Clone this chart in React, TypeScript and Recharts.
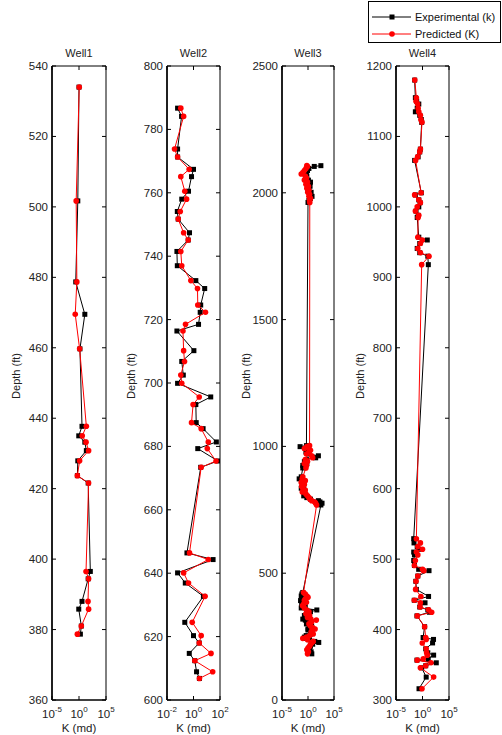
import React from 'react';
import { ScatterChart, Scatter, XAxis, YAxis, ReferenceArea } from 'recharts';

// depth (ft) and permeability K (md) per well
const well1Depth = [534, 501.7, 478.7, 469.5, 459.7, 437.7, 435, 433.2, 430.8, 427.9, 423.7, 421.6, 396.5, 394.4, 388, 385.8, 381, 378.7];
const well1Exp = [1.0, 0.6, 0.25, 12, 1.5, 3.6, 0.9, 12, 23, 0.6, 0.5, 50, 125, 50, 3.6, 0.9, 2.7, 1.8];
const well1Pred = [1.1, 0.3, 0.4, 0.2, 1.3, 23, 4, 20, 60, 1.3, 0.5, 60, 20, 60, 47, 60, 2.7, 0.5];

const well2Depth = [786.7, 784.1, 773.8, 771.3, 767.4, 765.1, 760.5, 758, 754.1, 751.7, 747.4, 745.1, 741.5, 737, 732.3, 729.8, 724.6, 722.3, 718.5, 716.4, 710.2, 706.8, 702.5, 699.9, 695.6, 693.2, 687.5, 685.6, 681.4, 679.3, 675.4, 673.4, 646.4, 644.3, 640.1, 636.9, 632.7, 624.5, 620.3, 618, 614.7, 612.4, 608.9, 606.8];
const well2Exp = [0.063, 0.126, 0.063, 0.063, 1, 0.71, 0.42, 0.13, 0.06, 0.07, 0.5, 0.4, 0.056, 0.06, 1.5, 7, 3.5, 3.2, 2.4, 0.056, 1.07, 0.13, 0.17, 0.063, 20, 1.5, 1.6, 5.3, 53, 2.1, 70, 3.5, 0.32, 30, 0.063, 0.24, 5.6, 0.22, 1, 2.7, 0.48, 1.25, 1.7, 2.8];
const well2Pred = [0.11, 0.18, 0.037, 0.063, 0.47, 0.11, 0.22, 0.3, 0.1, 0.07, 0.18, 0.4, 0.11, 0.13, 0.63, 2, 2.1, 8, 0.25, 0.16, 0.18, 0.21, 0.11, 0.13, 2.7, 0.93, 0.71, 3.8, 13, 11, 50, 3.8, 0.5, 13, 0.18, 0.42, 7.5, 0.8, 3.8, 2.7, 21, 1.25, 28, 2.8];

const well3Depth = [
  2107, 2104, 2096, 2088, 2080, 2074, 2066, 2058, 2050, 2042, 2034, 2026, 2018, 2010, 2002, 1994, 1986, 1978, 1970, 1962,
  1003, 999, 992, 985, 978, 970, 963, 955, 948, 940, 932, 925, 915, 880, 872, 865, 858, 850, 842, 835, 828, 820, 812, 805, 798, 792, 786, 781, 776, 769,
  424, 418, 410, 405, 398, 392, 385, 378, 372, 363, 355, 348, 340, 333, 325, 319, 315, 308, 300, 292, 286, 280, 276, 268, 260, 254, 248, 243, 238, 231, 227, 220, 212, 205, 198, 190, 182,
];
const well3Exp = [
  300, 16, 1.5, 0.8, 0.5, 0.3, 0.6, 0.4, 1.2, 3, 0.8, 2.5, 1.5, 0.9, 4, 2, 6, 3, 1.5, 1.0,
  0.5, 0.03, 0.3, 0.8, 0.4, 1.2, 100, 30, 0.5, 0.2, 0.6, 0.1, 0.1, 0.05, 0.02, 0.06, 0.1, 0.08, 0.15, 0.05, 0.1, 0.2, 0.3, 0.15, 0.6, 3, 100, 200, 500, 300,
  0.1, 0.066, 0.05, 0.2, 0.08, 0.037, 0.1, 0.06, 0.3, 0.05, 50, 3, 0.5, 0.2, 0.8, 0.1, 0.3, 2, 0.5, 5, 2, 1, 1, 6, 3, 0.45, 0.2, 0.3, 2, 20, 117, 8, 3, 1.5, 2, 4, 5.4,
];
const well3Pred = [
  0.6, 0.8, 0.4, 0.2, 0.1, 0.05, 0.3, 0.5, 0.2, 0.8, 0.4, 1.2, 0.6, 1.5, 0.9, 2, 1.5, 3, 2, 2.2,
  2, 0.6, 0.2, 3, 1.5, 0.5, 5, 8, 0.3, 0.8, 0.2, 0.5, 0.4, 0.1, 0.08, 0.3, 0.05, 0.2, 0.06, 0.1, 0.3, 0.08, 0.4, 0.8, 1.5, 2.5, 5, 20, 30, 45,
  0.14, 0.3, 0.6, 1, 0.3, 0.2, 0.5, 0.15, 0.09, 0.2, 0.6, 1.5, 0.4, 2, 0.8, 3.5, 40, 5, 1.5, 3, 8, 23, 6, 4, 10, 2, 0.5, 0.1, 0.8, 10, 6, 3, 2, 1, 0.6, 1.2, 0.8,
];

const well4Depth = [
  1180, 1155, 1150, 1146, 1140, 1135, 1130, 1124, 1120, 1082, 1078, 1071, 1066, 1020, 1017, 1010, 1006, 1000, 994, 988, 985, 957, 953, 948, 941, 935, 930, 918,
  529, 523, 518, 514, 510, 506, 498, 491, 485.5, 483.6, 476, 468.5, 457, 447, 441.6, 438, 432, 428, 424.6, 419.4, 404, 388.7, 386, 381, 372.6, 367, 363.7, 358.5, 356.6, 352.8, 348.6, 345.7, 332.5, 316,
];
const well4Exp = [
  0.033, 0.045, 0.08, 0.2, 0.1, 0.045, 0.3, 0.6, 0.7, 0.4, 0.3, 0.15, 0.033, 0.6, 0.045, 0.2, 0.35, 0.2, 0.06, 0.15, 0.1, 0.2, 8, 0.3, 0.1, 0.3, 10, 12.6,
  0.022, 0.025, 0.1, 0.2, 0.022, 0.03, 0.022, 0.03, 0.19, 17, 0.13, 0.055, 0.07, 14, 0.028, 3, 0.3, 10, 20, 0.09, 2.5, 1.3, 120, 80, 4, 10, 126, 12, 0.09, 400, 4, 0.7, 5, 0.22,
];
const well4Pred = [
  0.035, 0.07, 0.06, 0.12, 0.15, 0.2, 0.4, 0.5, 0.8, 0.4, 0.3, 0.12, 0.05, 0.55, 0.033, 0.2, 0.4, 0.1, 0.045, 0.2, 0.15, 0.13, 0.9, 0.4, 0.13, 0.4, 17, 0.7,
  0.07, 0.4, 0.13, 1.0, 0.07, 0.13, 0.045, 0.03, 1.0, 1.8, 0.13, 0.06, 0.05, 0.5, 0.028, 0.4, 0.35, 14, 54, 0.1, 2.5, 4, 5, 0.9, 5, 6, 8, 1.4, 0.1, 40, 4, 0.4, 126, 0.8,
];

const FONT = '"Liberation Sans", Arial, Helvetica, sans-serif';
const CHART_H = 735;
const PLOT_TOP = 66;
const PLOT_BOTTOM = 700;
const LEFT_SPACE = 52;
const RIGHT_SPACE = 12;

interface WellSpec {
  title: string;
  depth: number[];
  exp: number[];
  pred: number[];
  yDomain: [number, number];
  yTicks: number[];
  xDomain: [number, number];
  xTicks: number[];
  pageLeft: number;
  plotW: number;
}

const toPoints = (depth: number[], k: number[]) => depth.map((d, i) => ({ depth: d, k: k[i] }));

const squareShape = (p: any) => <rect x={p.cx - 2.5} y={p.cy - 2.5} width={5} height={5} fill="#000" />;
const dotShape = (p: any) => <circle cx={p.cx} cy={p.cy} r={2.8} fill="#ff0000" />;

const WellPanel = ({ spec }: { spec: WellSpec }) => {
  const width = LEFT_SPACE + spec.plotW + RIGHT_SPACE;
  const plotLeft = LEFT_SPACE;
  const plotRight = LEFT_SPACE + spec.plotW;

  const YTick = (p: any) => (
    <g>
      <line x1={plotLeft} x2={plotLeft + 4} y1={p.y} y2={p.y} stroke="#000" />
      <line x1={plotRight - 4} x2={plotRight} y1={p.y} y2={p.y} stroke="#000" />
      <text x={plotLeft - 4} y={p.y + 4} textAnchor="end" fontSize={11.5} fill="#222" fontFamily={FONT}>
        {p.payload.value}
      </text>
    </g>
  );

  const XTick = (p: any) => {
    const e = Math.round(Math.log10(p.payload.value));
    return (
      <g>
        <line x1={p.x} x2={p.x} y1={PLOT_BOTTOM} y2={PLOT_BOTTOM - 4} stroke="#000" />
        <line x1={p.x} x2={p.x} y1={PLOT_TOP} y2={PLOT_TOP + 4} stroke="#000" />
        <text x={p.x} y={PLOT_BOTTOM + 18} textAnchor="middle" fontSize={11.5} fill="#222" fontFamily={FONT}>
          10<tspan dy={-6} fontSize={8}>{String(e)}</tspan>
        </text>
      </g>
    );
  };

  const midX = plotLeft + spec.plotW / 2;

  return (
    <div style={{ position: 'absolute', left: spec.pageLeft - LEFT_SPACE, top: 0 }}>
      <ScatterChart width={width} height={CHART_H} margin={{ top: PLOT_TOP, right: RIGHT_SPACE, bottom: 0, left: 0 }}>
        <XAxis
          dataKey="k"
          type="number"
          scale="log"
          domain={spec.xDomain}
          ticks={spec.xTicks}
          interval={0}
          allowDataOverflow
          height={CHART_H - PLOT_BOTTOM}
          tickSize={0}
          tickLine={false}
          axisLine={{ stroke: '#000' }}
          tick={XTick}
          label={() => (
            <text x={midX} y={CHART_H - 3} textAnchor="middle" fontSize={11.5} fill="#222" fontFamily={FONT}>
              K (md)
            </text>
          )}
        />
        <YAxis
          dataKey="depth"
          type="number"
          domain={spec.yDomain}
          ticks={spec.yTicks}
          interval={0}
          allowDataOverflow
          width={LEFT_SPACE}
          tickSize={0}
          tickLine={false}
          axisLine={{ stroke: '#000', strokeWidth: 1.5 }}
          tick={YTick}
          label={() => (
            <text
              x={plotLeft - 36}
              y={376}
              transform={`rotate(-90, ${plotLeft - 36}, 376)`}
              textAnchor="middle"
              dominantBaseline="central"
              fontSize={11}
              fill="#222"
              fontFamily={FONT}
            >
              Depth (ft)
            </text>
          )}
        />
        <ReferenceArea
          x1={spec.xDomain[0]}
          x2={spec.xDomain[1]}
          y1={spec.yDomain[0]}
          y2={spec.yDomain[1]}
          fill="none"
          stroke="#000"
          strokeWidth={1}
          label={() => (
            <text x={midX} y={57} textAnchor="middle" fontSize={11} fill="#222" fontFamily={FONT}>
              {spec.title}
            </text>
          )}
        />
        <Scatter
          name="Experimental (k)"
          data={toPoints(spec.depth, spec.exp)}
          fill="#000"
          line={{ stroke: '#000', strokeWidth: 1 }}
          lineType="joint"
          shape={squareShape}
          isAnimationActive={false}
        />
        <Scatter
          name="Predicted (K)"
          data={toPoints(spec.depth, spec.pred)}
          fill="#ff0000"
          line={{ stroke: '#ff0000', strokeWidth: 1 }}
          lineType="joint"
          shape={dotShape}
          isAnimationActive={false}
        />
      </ScatterChart>
    </div>
  );
};

const wells: WellSpec[] = [
  {
    title: 'Well1', depth: well1Depth, exp: well1Exp, pred: well1Pred,
    yDomain: [360, 540], yTicks: [360, 380, 400, 420, 440, 460, 480, 500, 520, 540],
    xDomain: [1e-5, 1e5], xTicks: [1e-5, 1, 1e5], pageLeft: 52, plotW: 54,
  },
  {
    title: 'Well2', depth: well2Depth, exp: well2Exp, pred: well2Pred,
    yDomain: [600, 800], yTicks: [600, 620, 640, 660, 680, 700, 720, 740, 760, 780, 800],
    xDomain: [1e-2, 1e2], xTicks: [1e-2, 1, 1e2], pageLeft: 167, plotW: 53,
  },
  {
    title: 'Well3', depth: well3Depth, exp: well3Exp, pred: well3Pred,
    yDomain: [0, 2500], yTicks: [0, 500, 1000, 1500, 2000, 2500],
    xDomain: [1e-5, 1e5], xTicks: [1e-5, 1, 1e5], pageLeft: 282, plotW: 52,
  },
  {
    title: 'Well4', depth: well4Depth, exp: well4Exp, pred: well4Pred,
    yDomain: [300, 1200], yTicks: [300, 400, 500, 600, 700, 800, 900, 1000, 1100, 1200],
    xDomain: [1e-5, 1e5], xTicks: [1e-5, 1, 1e5], pageLeft: 396, plotW: 53,
  },
];

const LegendBox = () => (
  <svg width={502} height={50} style={{ position: 'absolute', left: 0, top: 0 }}>
    <rect x={368.5} y={1.5} width={132} height={41} fill="#fff" stroke="#000" />
    <line x1={372} x2={411} y1={17} y2={17} stroke="#000" />
    <rect x={389.5} y={14.5} width={5} height={5} fill="#000" />
    <text x={415} y={21} fontSize={11} fill="#111" fontFamily={FONT}>Experimental (k)</text>
    <line x1={372} x2={411} y1={34} y2={34} stroke="#ff0000" />
    <circle cx={392} cy={34} r={2.8} fill="#ff0000" />
    <text x={415} y={38} fontSize={11} fill="#111" fontFamily={FONT}>Predicted (K)</text>
  </svg>
);

export default function App() {
  return (
    <div style={{ position: 'absolute', left: 0, top: 0, width: 502, height: 735, background: '#fff', fontFamily: FONT }}>
      {wells.map((w) => (
        <WellPanel key={w.title} spec={w} />
      ))}
      <LegendBox />
    </div>
  );
}
